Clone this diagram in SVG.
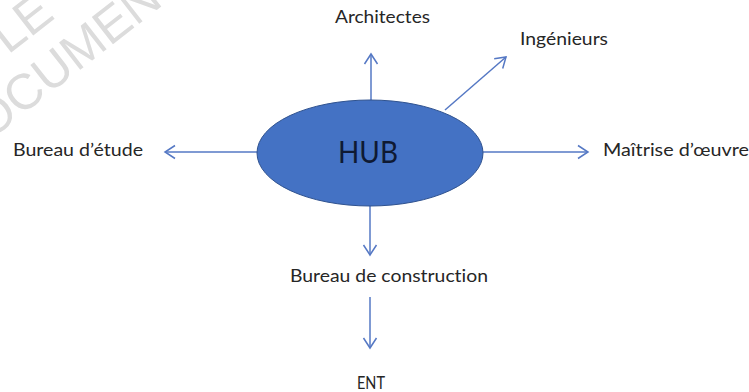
<svg xmlns="http://www.w3.org/2000/svg" width="749" height="392" viewBox="0 0 749 392">
  <defs>
    <style>
      .lbl { font-family: Lato, "Open Sans", "Liberation Sans", sans-serif; font-size: 17.5px; fill: #262626; font-variant-ligatures: none; }
      .hub { font-family: Lato, "Open Sans", "Liberation Sans", sans-serif; font-size: 30px; fill: #0f1a33; }
      .wm { font-family: "Liberation Sans", Arial, sans-serif; font-size: 50px; fill: #dcdcdc; }
      .edge { stroke: #5578c4; stroke-width: 1.5; fill: none; marker-end: url(#arrow); }
    </style>
    <marker id="arrow" viewBox="-12 -8 14 16" refX="0" refY="0" markerWidth="14" markerHeight="16" markerUnits="userSpaceOnUse" orient="auto">
      <path d="M-10,-6.5 L0,0 L-10,6.5" fill="none" stroke="#5578c4" stroke-width="1.5"/>
    </marker>
  </defs>
  <rect width="749" height="392" fill="#ffffff"/>

  <g id="watermark">
    <text class="wm" transform="translate(-39,163) rotate(-38)">DOCUMENT</text>
    <text class="wm" transform="translate(8,55) rotate(-38)">LE</text>
  </g>

  <g id="connectors">
    <line class="edge" x1="371" y1="100" x2="371" y2="54"/>
    <line class="edge" x1="445" y1="110" x2="506" y2="57"/>
    <line class="edge" x1="257" y1="152" x2="165" y2="152"/>
    <line class="edge" x1="483" y1="152" x2="588" y2="152"/>
    <line class="edge" x1="370" y1="206" x2="370" y2="255"/>
    <line class="edge" x1="370" y1="297" x2="370" y2="348"/>
  </g>

  <g id="hub">
    <ellipse cx="370" cy="153" rx="113" ry="53" fill="#4472c4" stroke="#2f528f" stroke-width="1"/>
    <text class="hub" x="338" y="163" textLength="60" lengthAdjust="spacingAndGlyphs">HUB</text>
  </g>
  <g id="architectes">
    <text class="lbl" x="335" y="23" textLength="95" lengthAdjust="spacingAndGlyphs">Architectes</text>
  </g>
  <g id="ingenieurs">
    <text class="lbl" x="520" y="45" textLength="88" lengthAdjust="spacingAndGlyphs">Ingénieurs</text>
  </g>
  <g id="bureau-etude">
    <text class="lbl" x="13" y="156" textLength="130" lengthAdjust="spacingAndGlyphs">Bureau d’étude</text>
  </g>
  <g id="maitrise-oeuvre">
    <text class="lbl" x="603" y="156" textLength="146" lengthAdjust="spacingAndGlyphs">Maîtrise d’œuvre</text>
  </g>
  <g id="bureau-construction">
    <text class="lbl" x="290" y="282" textLength="198" lengthAdjust="spacingAndGlyphs">Bureau de construction</text>
  </g>
  <g id="ent">
    <text class="lbl" x="357" y="389" textLength="28" lengthAdjust="spacingAndGlyphs">ENT</text>
  </g>
</svg>
